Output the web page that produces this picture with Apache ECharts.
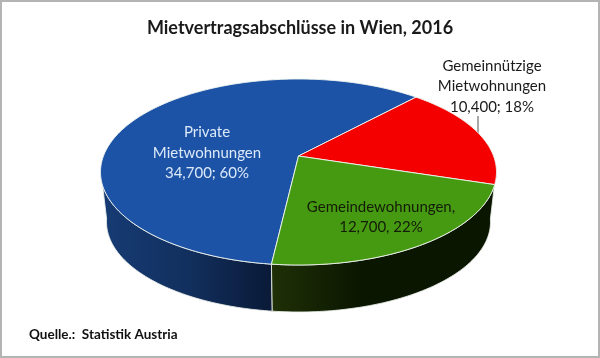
<!DOCTYPE html>
<html>
<head>
<meta charset="utf-8">
<style>
  html, body { margin: 0; padding: 0; background: #fff; }
  #chart { width: 600px; height: 358px; }
</style>
<script src="https://cdn.jsdelivr.net/npm/echarts@6/dist/echarts.min.js"></script>
</head>
<body>
<div id="chart"></div>
<script>
// data, clockwise from the front edge
const categories = ['Private Mietwohnungen', 'Gemeinnützige Mietwohnungen', 'Gemeindewohnungen']
const contracts = [34700, 10400, 12700]
const labelTexts = [
  'Private\nMietwohnungen\n34,700; 60%',
  'Gemeinnützige\nMietwohnungen\n10,400; 18%',
  'Gemeindewohnungen,\n12,700, 22%'
]
const chartTitle = 'Mietvertragsabschlüsse in Wien, 2016'
const sourceNote = 'Quelle.:  Statistik Austria'

// look of the tilted pie
const fontName = 'Lato, "Open Sans", sans-serif'
const topFace = { cx: 298.5, cy: 172, a: 198, b: 93 }
const bottomFace = { cx: 298.5, cy: 222, a: 192, b: 90 }
const tilt = -0.172 // moves the pie centre towards the back of the ellipse
const firstAngle = 96.6
const topColors = ['#1c53a6', '#f50000', '#459a12']
const labelColors = ['#dce9f9', '#1a1a1a', '#141c08']
const labelSpots = [[207, 153], [492, 86.5], [381, 217]]
const wallRange = [{ to: 172 }, null, { from: 8 }]
const wallColors = [
  new echarts.graphic.LinearGradient(101, 0, 270, 0, [
    { offset: 0, color: '#163b74' },
    { offset: 0.5, color: '#12305f' },
    { offset: 1, color: '#0a1a38' }
  ], true),
  null,
  new echarts.graphic.LinearGradient(270, 0, 360, 0, [
    { offset: 0, color: '#1f3107' },
    { offset: 1, color: '#0b1600' }
  ], true)
]

const total = contracts.reduce((a, b) => a + b, 0)

// start and end angle of a slice in degrees
const sliceAngles = (index) => {
  let start = firstAngle
  for (let i = 0; i < index; i++) start += contracts[i] / total * 360
  return [start, start + contracts[index] / total * 360]
}

// a point on the rim: circle angle to the perspective ellipse
const rimPoint = (deg, face) => {
  const r = deg * Math.PI / 180
  const u = Math.cos(r)
  const v = Math.sin(r)
  const d = 1 + tilt * v
  return [
    face.cx + face.a * u * Math.sqrt(1 - tilt * tilt) / d,
    face.cy + face.b * (v + tilt) / d
  ]
}

const rimArc = (from, to, face) => {
  const steps = Math.max(2, Math.ceil(Math.abs(to - from)))
  const pts = []
  for (let i = 0; i <= steps; i++) pts.push(rimPoint(from + (to - from) * i / steps, face))
  return pts
}

const renderWall = (params) => {
  const i = params.dataIndex
  const range = wallRange[i]
  if (!range) return
  const [start, end] = sliceAngles(i)
  const from = range.from !== undefined ? range.from : start % 360
  const to = range.to !== undefined ? range.to : end % 360
  return {
    type: 'polygon',
    shape: { points: rimArc(from, to, topFace).concat(rimArc(to, from, bottomFace)) },
    style: { fill: wallColors[i], stroke: 'rgba(235,240,235,0.85)', lineWidth: 1 }
  }
}

const renderTop = (params) => {
  const i = params.dataIndex
  const [start, end] = sliceAngles(i)
  const apex = [topFace.cx, topFace.cy + topFace.b * tilt]
  return {
    type: 'polygon',
    shape: { points: [apex].concat(rimArc(start, end, topFace)) },
    style: { fill: topColors[i], stroke: 'rgba(240,245,240,0.9)', lineWidth: 1, lineJoin: 'round' }
  }
}

const renderLabel = (params) => {
  const i = params.dataIndex
  return {
    type: 'text',
    style: {
      x: labelSpots[i][0],
      y: labelSpots[i][1],
      text: labelTexts[i],
      fill: labelColors[i],
      font: '15px ' + fontName,
      lineHeight: 20.5,
      align: 'center',
      verticalAlign: 'middle'
    }
  }
}

const sliceData = contracts.map((v, i) => ({ name: categories[i], value: v }))

const chart = echarts.init(document.getElementById('chart'))
chart.setOption({
  animation: false,
  backgroundColor: '#fff',
  title: [
    {
      text: chartTitle,
      left: 'center',
      top: 14,
      textStyle: { fontFamily: fontName, fontSize: 18, fontWeight: 'bold', color: '#1a1a1a' }
    },
    {
      text: sourceNote,
      left: 24,
      top: 323,
      textStyle: { fontFamily: fontName, fontSize: 13.5, fontWeight: 'bold', color: '#111' }
    }
  ],
  graphic: [
    { type: 'rect', shape: { x: 1, y: 1, width: 598, height: 356 }, style: { fill: 'none', stroke: '#b4b4b4', lineWidth: 2 } },
    { type: 'line', shape: { x1: 478, y1: 116, x2: 478, y2: 134 }, style: { stroke: '#8c8c8c', lineWidth: 1.5 } }
  ],
  series: [
    { type: 'custom', coordinateSystem: 'none', z: 1, silent: true, data: sliceData, renderItem: renderWall },
    { type: 'custom', coordinateSystem: 'none', z: 2, silent: true, data: sliceData, renderItem: renderTop },
    { type: 'custom', coordinateSystem: 'none', z: 3, silent: true, data: sliceData, renderItem: renderLabel }
  ]
})
</script>
</body>
</html>
